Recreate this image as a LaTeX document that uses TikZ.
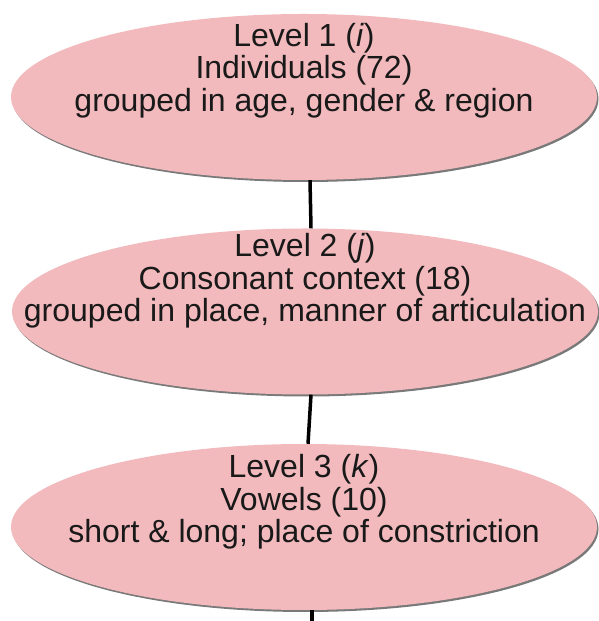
\documentclass[tikz,border=0pt]{standalone}
\usepackage{fontspec}
\setmainfont{Liberation Sans}
\usetikzlibrary{shapes.geometric,shadows}
\definecolor{tierpink}{RGB}{242,186,189}

\begin{document}
\begin{tikzpicture}[x=1pt,y=1pt,
  tier/.style={ellipse,fill=tierpink,minimum width=586pt,minimum height=166pt,inner sep=0pt,
    drop shadow={shadow xshift=1.5pt,shadow yshift=-2pt,fill=black!75,opacity=.7}},
  caption/.style={align=center,font=\fontsize{32}{32.5}\selectfont,text=black!90},
  link/.style={line width=3.5pt}]
\useasboundingbox (0,0) rectangle (598,621);
\node[tier] (lvl1) at (304,524) {};
\node[tier] (lvl2) at (305,309.5) {};
\node[tier] (lvl3) at (304,94) {};
\node[caption] (txt1) at (304,550.5) {Level 1 (\textit{i})\\Individuals (72)\\grouped in age, gender \& region};
\node[caption] (txt2) at (305,340) {Level 2 (\textit{j})\\Consonant context (18)\\grouped in place, manner of articulation};
\node[caption] (txt3) at (304,119) {Level 3 (\textit{k})\\Vowels (10)\\short \& long; place of constriction};
\coordinate (tail) at (312,0);
\draw[link] ([xshift=6pt]lvl1.south) -- ([xshift=6pt]lvl2.north);
\draw[link] ([xshift=6pt]lvl2.south) -- ([xshift=4pt]lvl3.north);
\draw[link] ([xshift=8pt]lvl3.south) -- (tail);
\end{tikzpicture}
\end{document}
